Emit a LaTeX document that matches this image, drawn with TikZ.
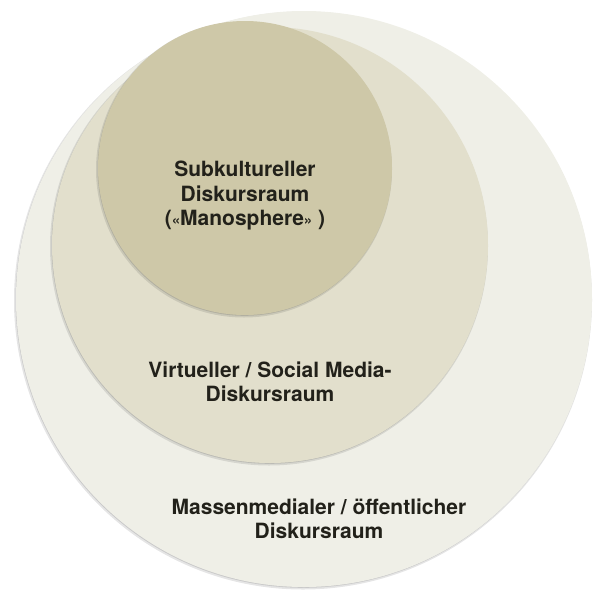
\documentclass[tikz,border=0pt]{standalone}
\usepackage{fontspec}
\setmainfont{TeX Gyre Heros}
\definecolor{outerc}{HTML}{EFEFE7}
\definecolor{midc}{HTML}{E2DFCC}
\definecolor{innerc}{HTML}{CEC8A8}
\definecolor{txtc}{HTML}{22211A}
\newcommand{\smallq}[1]{{\fontsize{15}{15}\selectfont #1}}
\tikzset{
  disc/.style={circle, draw=none, inner sep=0pt, minimum size=#1},
  shade1/.style={fill=black, opacity=0.10},
  shade2/.style={fill=black, opacity=0.12},
  lbl/.style={align=center, text=txtc, font=\fontsize{21}{24.5}\selectfont\bfseries, inner sep=0pt}
}
\begin{document}
\begin{tikzpicture}[x=1pt,y=-1pt]
\useasboundingbox (0,0) rectangle (599,589);
% outer
\fill[shade1] (303,300.5) circle (289);
\fill[shade2] (303.5,299.8) circle (288);
\node[disc=576pt, fill=outerc] (outer) at (304,299) {};
% middle
\fill[shade1] (269,246.5) circle (219);
\fill[shade2] (269.5,245.8) circle (218);
\node[disc=436pt, fill=midc] (mid) at (270,245) {};
% inner
\fill[shade1] (244,169.5) circle (148);
\fill[shade2] (244.5,168.8) circle (147);
\node[disc=294pt, fill=innerc] (inner) at (245,168) {};
% labels
\node[lbl] (tinner) at (245,196) {Subkultureller\\Diskursraum\\(\smallq{«}Manosphere\smallq{»} )};
\node[lbl] (tmid) at (270,382) {Virtueller / Social Media-\\Diskursraum};
\node[lbl] (touter) at (319,519) {Massenmedialer / öffentlicher\\Diskursraum};
\end{tikzpicture}
\end{document}
